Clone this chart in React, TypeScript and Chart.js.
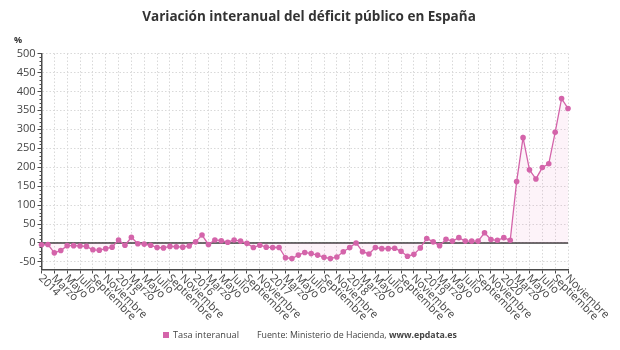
import { useEffect, useRef } from "react";
import { Chart, registerables } from "chart.js";

Chart.register(...registerables);

const TITLE = "Variación interanual del déficit público en España";
const UNIT = "%";
const SERIES_NAME = "Tasa interanual";
const SOURCE_TEXT = "Fuente: Ministerio de Hacienda, ";
const SOURCE_LINK = "www.epdata.es";

const YEARS = ["2014", "2015", "2016", "2017", "2018", "2019", "2020"];
const MONTHS = [
  "Enero", "Febrero", "Marzo", "Abril", "Mayo", "Junio",
  "Julio", "Agosto", "Septiembre", "Octubre", "Noviembre", "Diciembre",
];

// Year-on-year change of the public deficit (%), monthly
const values2014 = [-5, -4, -26, -20, -7, -7, -8, -9, -18, -19, -15, -11];
const values2015 = [8, -6, 15, -2, -3, -6, -12, -13, -9, -10, -11, -8];
const values2016 = [3, 21, -4, 8, 6, 2, 8, 5, -1, -12, -6, -11];
const values2017 = [-12, -12, -39, -41, -32, -25, -28, -32, -38, -41, -37, -23];
const values2018 = [-12, 0, -23, -29, -12, -15, -15, -14, -22, -35, -30, -13];
const values2019 = [12, 3, -7, 10, 5, 14, 5, 5, 5, 27, 9, 7];
const values2020 = [14, 7, 162, 278, 193, 169, 199, 209, 292, 381, 355];

const yearValues = [values2014, values2015, values2016, values2017, values2018, values2019, values2020];

// Category per month: the year name in January, the month name otherwise
const categories: string[] = [];
const values: number[] = [];
yearValues.forEach((arr, yi) => {
  arr.forEach((v, mi) => {
    categories.push(mi === 0 ? YEARS[yi] : MONTHS[mi]);
    values.push(v);
  });
});

const Y_MIN = -70;
const Y_MAX = 500;
const Y_STEP = 50;

const FONT = '"Open Sans", "Noto Sans", sans-serif';
const PINK = "rgb(212, 100, 170)";
const PINK_FILL = "rgba(230, 120, 190, 0.09)";
const AXIS = "#4a4a4a";
const GRID = "#d9d9d9";
const TEXT = "#444";

const decorations = {
  id: "decorations",
  beforeDatasetsDraw(chart: any) {
    const { ctx, chartArea, scales } = chart;
    const y0 = scales.y.getPixelForValue(0);
    ctx.save();
    ctx.strokeStyle = "#3a3a3a";
    ctx.lineWidth = 1.5;
    ctx.beginPath();
    ctx.moveTo(chartArea.left, y0);
    ctx.lineTo(chartArea.right, y0);
    ctx.stroke();
    ctx.restore();
  },
  afterDraw(chart: any) {
    const { ctx, chartArea, scales } = chart;
    const xs = scales.x;
    const ys = scales.y;
    ctx.save();

    // title
    ctx.fillStyle = "#333";
    ctx.font = `bold 13.5px ${FONT}`;
    ctx.textAlign = "center";
    ctx.textBaseline = "middle";
    ctx.fillText(TITLE, 309, 17);

    // unit
    ctx.font = `bold 9px ${FONT}`;
    ctx.fillText(UNIT, 18, 40);

    // minor ticks on the value axis
    ctx.strokeStyle = AXIS;
    ctx.lineWidth = 1;
    for (let v = -60; v <= Y_MAX; v += 10) {
      if (v % Y_STEP === 0) continue;
      const py = Math.round(ys.getPixelForValue(v)) + 0.5;
      ctx.beginPath();
      ctx.moveTo(chartArea.left - 2, py);
      ctx.lineTo(chartArea.left, py);
      ctx.stroke();
    }

    // rotated month labels, every second month
    ctx.fillStyle = TEXT;
    ctx.font = `11px ${FONT}`;
    ctx.textAlign = "left";
    ctx.textBaseline = "middle";
    categories.forEach((label, i) => {
      if (i % 2 !== 0) return;
      const px = xs.getPixelForValue(i);
      ctx.save();
      ctx.translate(px - 1, chartArea.bottom + 7);
      ctx.rotate(Math.PI / 4);
      ctx.fillText(label, 0, 0);
      ctx.restore();
    });

    // legend and source line
    const fy = 335;
    ctx.fillStyle = PINK;
    ctx.fillRect(163, fy - 3, 6, 6);
    ctx.fillStyle = TEXT;
    ctx.font = `9.2px ${FONT}`;
    ctx.textAlign = "left";
    ctx.fillText(SERIES_NAME, 173, fy);
    ctx.font = `8.8px ${FONT}`;
    ctx.fillText(SOURCE_TEXT, 257, fy);
    const w = ctx.measureText(SOURCE_TEXT).width;
    ctx.font = `bold 8.8px ${FONT}`;
    ctx.fillText(SOURCE_LINK, 257 + w, fy);

    ctx.restore();
  },
};

export default function App() {
  const canvasRef = useRef<HTMLCanvasElement | null>(null);

  useEffect(() => {
    const canvas = canvasRef.current;
    if (!canvas) return;
    const chart = new Chart(canvas, {
      type: "line",
      data: {
        labels: categories,
        datasets: [
          {
            label: SERIES_NAME,
            data: values,
            borderColor: PINK,
            backgroundColor: PINK_FILL,
            borderWidth: 1.3,
            pointRadius: 2.8,
            pointBackgroundColor: PINK,
            pointBorderWidth: 0,
            fill: "origin",
            tension: 0,
          },
        ],
      },
      options: {
        animation: false,
        responsive: false,
        maintainAspectRatio: false,
        layout: { padding: { top: 53.5, left: 0, right: 52, bottom: 0 } },
        plugins: {
          legend: { display: false },
          title: { display: false },
          tooltip: { enabled: false },
        },
        scales: {
          x: {
            type: "category",
            offset: false,
            ticks: { display: false, autoSkip: false },
            grid: {
              color: (c: any) => (c.index % 2 === 0 ? GRID : "rgba(0,0,0,0)"),
              tickColor: (c: any) => (c.index % 2 === 0 ? AXIS : "rgba(0,0,0,0)"),
              tickLength: 4,
              lineWidth: 1,
            },
            border: { color: AXIS, width: 1.5, dash: [1.5, 2] },
            afterFit: (s: any) => {
              s.height = 80.5;
            },
          },
          y: {
            min: Y_MIN,
            max: Y_MAX,
            ticks: {
              stepSize: Y_STEP,
              includeBounds: false,
              color: TEXT,
              font: { family: FONT, size: 11 },
              padding: 2,
            },
            grid: {
              color: GRID,
              tickColor: AXIS,
              tickLength: 4,
              lineWidth: 1,
            },
            border: { color: AXIS, width: 1.5, dash: [1.5, 2] },
            afterFit: (s: any) => {
              s.width = 41.5;
            },
          },
        },
      },
      plugins: [decorations],
    });
    return () => chart.destroy();
  }, []);

  return (
    <div style={{ position: "fixed", left: 0, top: 0, width: 620, height: 350, background: "#fff" }}>
      <canvas ref={canvasRef} width={620} height={350} style={{ width: 620, height: 350 }} />
    </div>
  );
}
